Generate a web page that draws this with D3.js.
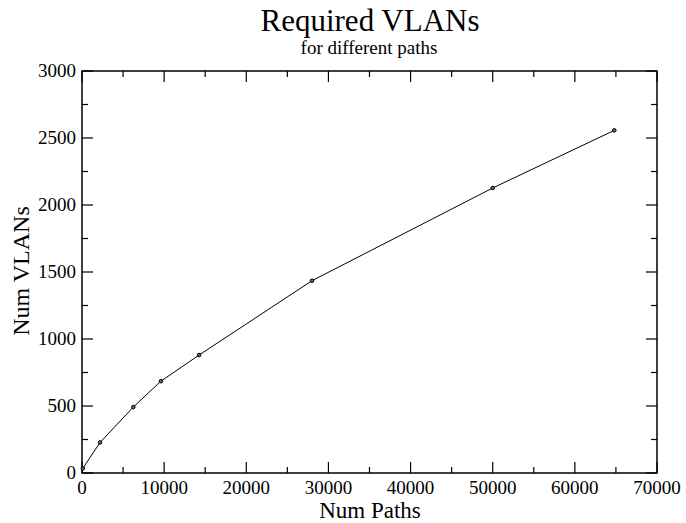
<!DOCTYPE html>
<html>
<head>
<meta charset="utf-8">
<script src="https://cdn.jsdelivr.net/npm/d3@7"></script>
<style>
body { margin: 0; background: #fff; }
text { font-family: "Liberation Serif", "Times New Roman", serif; fill: #000; }
</style>
</head>
<body>
<svg id="chart" width="686" height="523"></svg>
<script>
const paths = [100, 2200, 6250, 9600, 14250, 28000, 50000, 64800];
const vlans = [35, 228, 492, 685, 880, 1435, 2127, 2557];
const xTicks = [0, 10000, 20000, 30000, 40000, 50000, 60000, 70000];
const yTicks = [0, 500, 1000, 1500, 2000, 2500, 3000];

const svg = d3.select("#chart");
const L = 82, R = 657, T = 71, B = 473;
const x = d3.scaleLinear().domain([0, 70000]).range([L, R]);
const y = d3.scaleLinear().domain([0, 3000]).range([B, T]);

const xMinor = d3.range(5000, 70000, 10000);
const yMinor = d3.range(250, 3000, 500);

// frame
svg.append("rect").attr("x", L).attr("y", T).attr("width", R - L).attr("height", B - T)
  .attr("fill", "none").attr("stroke", "#000").attr("stroke-width", 1.5);

const g = svg.append("g").attr("stroke", "#000").attr("stroke-width", 1.2);
xTicks.forEach(v => {
  g.append("line").attr("x1", x(v)).attr("x2", x(v)).attr("y1", B).attr("y2", B - 11);
  g.append("line").attr("x1", x(v)).attr("x2", x(v)).attr("y1", T).attr("y2", T + 11);
});
xMinor.forEach(v => {
  g.append("line").attr("x1", x(v)).attr("x2", x(v)).attr("y1", B).attr("y2", B - 6);
  g.append("line").attr("x1", x(v)).attr("x2", x(v)).attr("y1", T).attr("y2", T + 6);
});
yTicks.forEach(v => {
  g.append("line").attr("y1", y(v)).attr("y2", y(v)).attr("x1", L).attr("x2", L + 11);
  g.append("line").attr("y1", y(v)).attr("y2", y(v)).attr("x1", R).attr("x2", R - 11);
});
yMinor.forEach(v => {
  g.append("line").attr("y1", y(v)).attr("y2", y(v)).attr("x1", L).attr("x2", L + 6);
  g.append("line").attr("y1", y(v)).attr("y2", y(v)).attr("x1", R).attr("x2", R - 6);
});

// tick labels
svg.append("g").selectAll("text").data(xTicks).join("text")
  .attr("x", d => x(d)).attr("y", 494).attr("text-anchor", "middle")
  .attr("font-size", 19).text(d => d);
svg.append("g").selectAll("text").data(yTicks).join("text")
  .attr("x", 76).attr("y", d => y(d) + 6).attr("text-anchor", "end")
  .attr("font-size", 19).text(d => d);

// data line
const data = paths.map((p, i) => [p, vlans[i]]);
svg.append("path").datum(data)
  .attr("fill", "none").attr("stroke", "#000").attr("stroke-width", 1)
  .attr("d", d3.line().x(d => x(d[0])).y(d => y(d[1])));
svg.append("g").selectAll("circle").data(data).join("circle")
  .attr("cx", d => x(d[0])).attr("cy", d => y(d[1])).attr("r", 1.8)
  .attr("fill", "#666").attr("stroke", "#000").attr("stroke-width", 1);

// titles
svg.append("text").attr("x", 370).attr("y", 31).attr("text-anchor", "middle")
  .attr("font-size", 31).text("Required VLANs");
svg.append("text").attr("x", 369).attr("y", 54).attr("text-anchor", "middle")
  .attr("font-size", 19).text("for different paths");
svg.append("text").attr("x", 370).attr("y", 518).attr("text-anchor", "middle")
  .attr("font-size", 23).text("Num Paths");
svg.append("text").attr("transform", "translate(29,271) rotate(-90)").attr("text-anchor", "middle")
  .attr("font-size", 24).text("Num VLANs");
</script>
</body>
</html>
